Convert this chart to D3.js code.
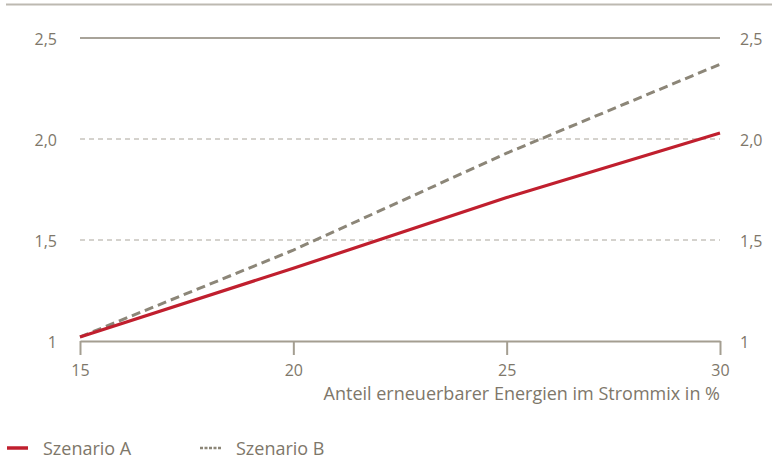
<!DOCTYPE html>
<html>
<head>
<meta charset="utf-8">
<script src="https://cdn.jsdelivr.net/npm/d3@7"></script>
<style>
  body { margin: 0; background: #fff; }
  svg { display: block; font-family: "Open Sans", "Noto Sans", sans-serif; }
  .lbl { fill: #7e776a; font-size: 18px; }
  .num { fill: #7e776a; font-size: 16px; }
</style>
</head>
<body>
<div class="chart"></div>
<script>
'use strict';

// share of renewables (x) and index values (y)
const shares = [15, 20, 25, 30];
const szenarioA = [1.02, 1.36, 1.71, 2.03];
const szenarioB = [1.02, 1.45, 1.93, 2.37];
const yTicks = [1, 1.5, 2, 2.5];
const xTicks = [15, 20, 25, 30];
const seriesNames = ['Szenario A', 'Szenario B'];
const axisTitle = 'Anteil erneuerbarer Energien im Strommix in %';

const W = 772, H = 462;
const margin = {top: 38, right: 52, bottom: 121, left: 80};

const xScale = d3.scaleLinear().domain([15, 30]).range([margin.left, W - margin.right]);
const yScale = d3.scaleLinear().domain([1, 2.5]).range([H - margin.bottom, margin.top]);

const fmt = d => d === 1 ? '1' : d3.format('.1f')(d).replace('.', ',');

const svg = d3.select('.chart').append('svg')
    .attr('width', W)
    .attr('height', H);

// top rule
svg.append('line')
    .attr('x1', 6).attr('x2', W)
    .attr('y1', 4.5).attr('y2', 4.5)
    .attr('stroke', '#bdb9b1')
    .attr('stroke-width', 2);

// grid lines
svg.append('g')
    .selectAll('line')
    .data(yTicks.filter(d => d > 1))
    .join('line')
    .attr('x1', xScale(15))
    .attr('x2', xScale(30))
    .attr('y1', d => yScale(d))
    .attr('y2', d => yScale(d))
    .attr('stroke', d => d === 2.5 ? '#8b8577' : '#aaa59b')
    .attr('stroke-width', d => d === 2.5 ? 1.5 : 1)
    .attr('stroke-dasharray', d => d === 2.5 ? null : '5,4');

// y labels, both sides
const yLabels = svg.append('g').attr('class', 'num');
yLabels.selectAll('.yl')
    .data(yTicks)
    .join('text')
    .attr('class', 'yl')
    .attr('x', 57)
    .attr('y', d => yScale(d) + 1)
    .attr('dy', '0.35em')
    .attr('text-anchor', 'end')
    .text(fmt);
yLabels.selectAll('.yr')
    .data(yTicks)
    .join('text')
    .attr('class', 'yr')
    .attr('x', 740)
    .attr('y', d => yScale(d) + 1)
    .attr('dy', '0.35em')
    .text(fmt);

// x axis
const xAxis = svg.append('g')
    .attr('transform', `translate(0,${yScale(1)})`)
    .call(d3.axisBottom(xScale).tickValues(xTicks).tickSize(14).tickPadding(10).tickSizeOuter(0));
xAxis.select('.domain').attr('stroke', '#a49e91').attr('stroke-width', 2);
xAxis.selectAll('.tick line').attr('stroke', '#a49e91').attr('stroke-width', 2);
xAxis.selectAll('.tick text')
    .attr('fill', '#7e776a')
    .attr('font-size', 16)
    .attr('font-family', '"Open Sans", "Noto Sans", sans-serif');

svg.append('text')
    .attr('class', 'lbl')
    .attr('x', xScale(30))
    .attr('y', 400)
    .attr('text-anchor', 'end')
    .text(axisTitle);

// lines
const line = d3.line()
    .x((d, i) => xScale(shares[i]))
    .y(d => yScale(d));

svg.append('path')
    .datum(szenarioB)
    .attr('d', line)
    .attr('fill', 'none')
    .attr('stroke', '#8c8678')
    .attr('stroke-width', 3)
    .attr('stroke-dasharray', '9,5');

svg.append('path')
    .datum(szenarioA)
    .attr('d', line)
    .attr('fill', 'none')
    .attr('stroke', '#c01f2e')
    .attr('stroke-width', 3.2);

// legend
const legend = svg.append('g');
const legendX = [7, 200];
const items = legend.selectAll('g')
    .data(seriesNames)
    .join('g')
    .attr('transform', (d, i) => `translate(${legendX[i]},448)`);
items.append('line')
    .attr('x1', 0).attr('x2', 21)
    .attr('stroke', (d, i) => i === 0 ? '#c01f2e' : '#8c8678')
    .attr('stroke-width', (d, i) => i === 0 ? 3.5 : 2.5)
    .attr('stroke-dasharray', (d, i) => i === 0 ? null : '3,1.5');
items.append('text')
    .attr('class', 'lbl')
    .attr('x', 36)
    .attr('y', 7)
    .text(d => d);
</script>
</body>
</html>
